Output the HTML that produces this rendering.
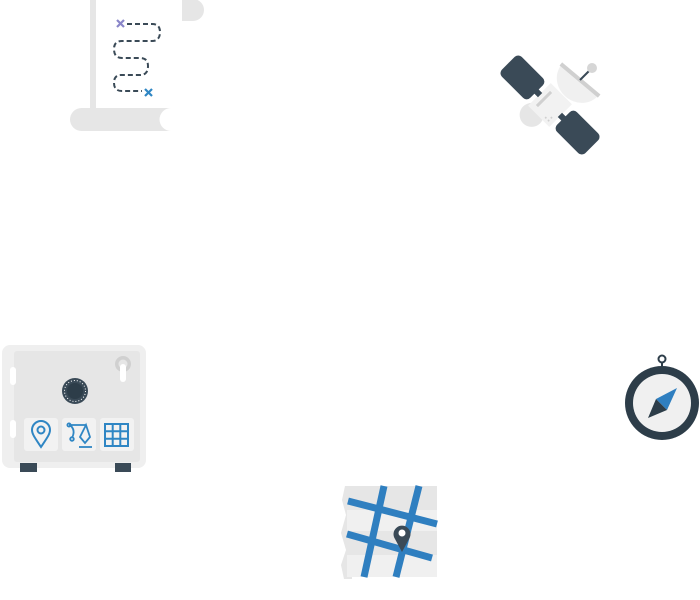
<!DOCTYPE html>
<html><head><style>html,body{margin:0;padding:0;background:#fff;}svg{display:block}</style></head>
<body>
<svg width="700" height="600" viewBox="0 0 700 600" xmlns="http://www.w3.org/2000/svg">
<!-- scroll -->
<rect x="90" y="0" width="92" height="112" fill="#fff"/>
<rect x="90" y="0" width="6" height="110" fill="#e6e6e6"/>
<circle cx="193" cy="10" r="11" fill="#e6e6e6"/>
<rect x="182" y="0" width="11" height="21" fill="#e6e6e6"/>
<rect x="70" y="108" width="110" height="23" rx="11.5" fill="#e6e6e6"/>
<circle cx="171" cy="119.5" r="11.5" fill="#fff"/>
<path d="M127 24 H152 Q160 24 160 32 Q160 41 152 41 H122 Q114 41 114 49 Q114 58 122 58 H140 Q148 58 148 66 Q148 75 140 75 H121 Q114 75 114 83 Q114 91 122 91 H142" fill="none" stroke="#3a4a57" stroke-width="2" stroke-dasharray="5 3"/>
<g stroke="#8a86c9" stroke-width="2.2"><line x1="117" y1="20" x2="124" y2="27"/><line x1="124" y1="20" x2="117" y2="27"/></g>
<g stroke="#2f86c4" stroke-width="2.2"><line x1="145" y1="89" x2="152" y2="96"/><line x1="152" y1="89" x2="145" y2="96"/></g>
<!-- satellite -->
<g transform="translate(580,80) rotate(40)">
<path d="M-24 0 A24 22 0 0 0 24 0 Z" fill="#f0f0f0"/>
<rect x="-25" y="-2" width="50" height="4" fill="#d0d0d0"/>
</g>
<line x1="580" y1="80" x2="591" y2="69" stroke="#3a4a57" stroke-width="2"/>
<circle cx="592" cy="68" r="5" fill="#d6d6d6"/>
<g transform="translate(550,105) rotate(-45)">
<circle cx="-20" cy="-6" r="12" fill="#e6e6e6"/>
<rect x="-16" y="-15" width="32" height="30" fill="#f2f2f2"/>
<rect x="-10" y="-10" width="3" height="20" fill="#d0d0d0" transform="rotate(90)"/>
<g fill="#d0d0d0"><circle cx="-12" cy="6" r="1"/><circle cx="-12" cy="10" r="1"/><circle cx="-8" cy="10" r="1"/></g>
<rect x="-3" y="-25" width="6" height="11" fill="#3a4a57"/>
<rect x="-3" y="14" width="6" height="11" fill="#3a4a57"/>
<rect x="-14" y="-59" width="28" height="40" rx="5" fill="#3a4a57"/>
<rect x="-14" y="19" width="28" height="40" rx="5" fill="#3a4a57"/>
</g>
<!-- safe -->
<rect x="2" y="345" width="144" height="123" rx="8" fill="#efefef"/>
<rect x="14" y="351" width="126" height="111" rx="3" fill="#e6e6e6"/>
<rect x="10" y="367" width="6" height="18" rx="3" fill="#fff"/>
<rect x="10" y="420" width="6" height="18" rx="3" fill="#fff"/>
<circle cx="123" cy="364" r="8" fill="#d0d0d0"/><circle cx="123" cy="364" r="4.5" fill="#e6e6e6"/>
<rect x="120" y="364" width="6" height="18" rx="3" fill="#fff"/>
<circle cx="75" cy="391" r="13" fill="#3a4a57"/>
<circle cx="75" cy="391" r="10.5" fill="none" stroke="#fff" stroke-width="1" stroke-dasharray="1 2"/>
<circle cx="75" cy="391" r="8" fill="#2d3d49"/>
<rect x="24" y="418" width="34" height="33" rx="3" fill="#f2f2f2"/>
<rect x="62" y="418" width="34" height="33" rx="3" fill="#f2f2f2"/>
<rect x="100" y="418" width="34" height="33" rx="3" fill="#f2f2f2"/>
<path d="M41 447 C35 438 32 434 32 430 A9 9 0 0 1 50 430 C50 434 47 438 41 447 Z" fill="none" stroke="#2f86c4" stroke-width="2"/>
<circle cx="41" cy="430" r="3.5" fill="none" stroke="#2f86c4" stroke-width="2"/>
<g fill="none" stroke="#2f86c4" stroke-width="1.8"><path d="M69 425 H86 M70 425 Q76 430 72 438"/><circle cx="69" cy="425" r="1.6"/><circle cx="72" cy="439" r="1.8"/><path d="M86 425 L80 437 L85 443 L90 437 Z"/><line x1="79" y1="447" x2="92" y2="447"/></g>
<g fill="none" stroke="#2f86c4" stroke-width="2"><rect x="105" y="424" width="23" height="22"/><line x1="112.7" y1="424" x2="112.7" y2="446"/><line x1="120.3" y1="424" x2="120.3" y2="446"/><line x1="105" y1="431.3" x2="128" y2="431.3"/><line x1="105" y1="438.7" x2="128" y2="438.7"/></g>
<rect x="20" y="463" width="17" height="9" fill="#3a4a57"/>
<rect x="115" y="463" width="16" height="9" fill="#3a4a57"/>
<!-- map -->
<path d="M345 486 L342 500 L346 515 L341 533 L346 550 L341 565 L344 579 L352 579 L352 486 Z" fill="#e6e6e6"/>
<rect x="347" y="486" width="90" height="24" fill="#e6e6e6"/>
<rect x="347" y="510" width="90" height="21" fill="#f0f0f0"/>
<rect x="347" y="531" width="90" height="24" fill="#e6e6e6"/>
<rect x="347" y="555" width="90" height="22" fill="#f0f0f0"/>
<g stroke="#2f7fc0" stroke-width="7">
<line x1="384" y1="486" x2="364" y2="577"/><line x1="419" y1="486" x2="396" y2="577"/>
<line x1="348" y1="501" x2="437" y2="524"/><line x1="347" y1="534" x2="432" y2="558"/>
</g>
<path d="M402 552 L395 539 A8.5 8.5 0 1 1 409 539 Z" fill="#3a4a57"/>
<circle cx="402" cy="533" r="3.5" fill="#fff"/>
<!-- compass -->
<circle cx="662" cy="359" r="3.5" fill="none" stroke="#2d3d49" stroke-width="2"/>
<line x1="662" y1="363" x2="662" y2="368" stroke="#2d3d49" stroke-width="2"/>
<circle cx="662" cy="403" r="37" fill="#2d3d49"/>
<circle cx="662" cy="403" r="29" fill="#f0f0f0"/>
<path d="M677 388 L667 410 L656 399 Z" fill="#2f7fc0"/>
<path d="M648 418 L656 399 L667 410 Z" fill="#2d3d49"/>
</svg>
</body></html>
